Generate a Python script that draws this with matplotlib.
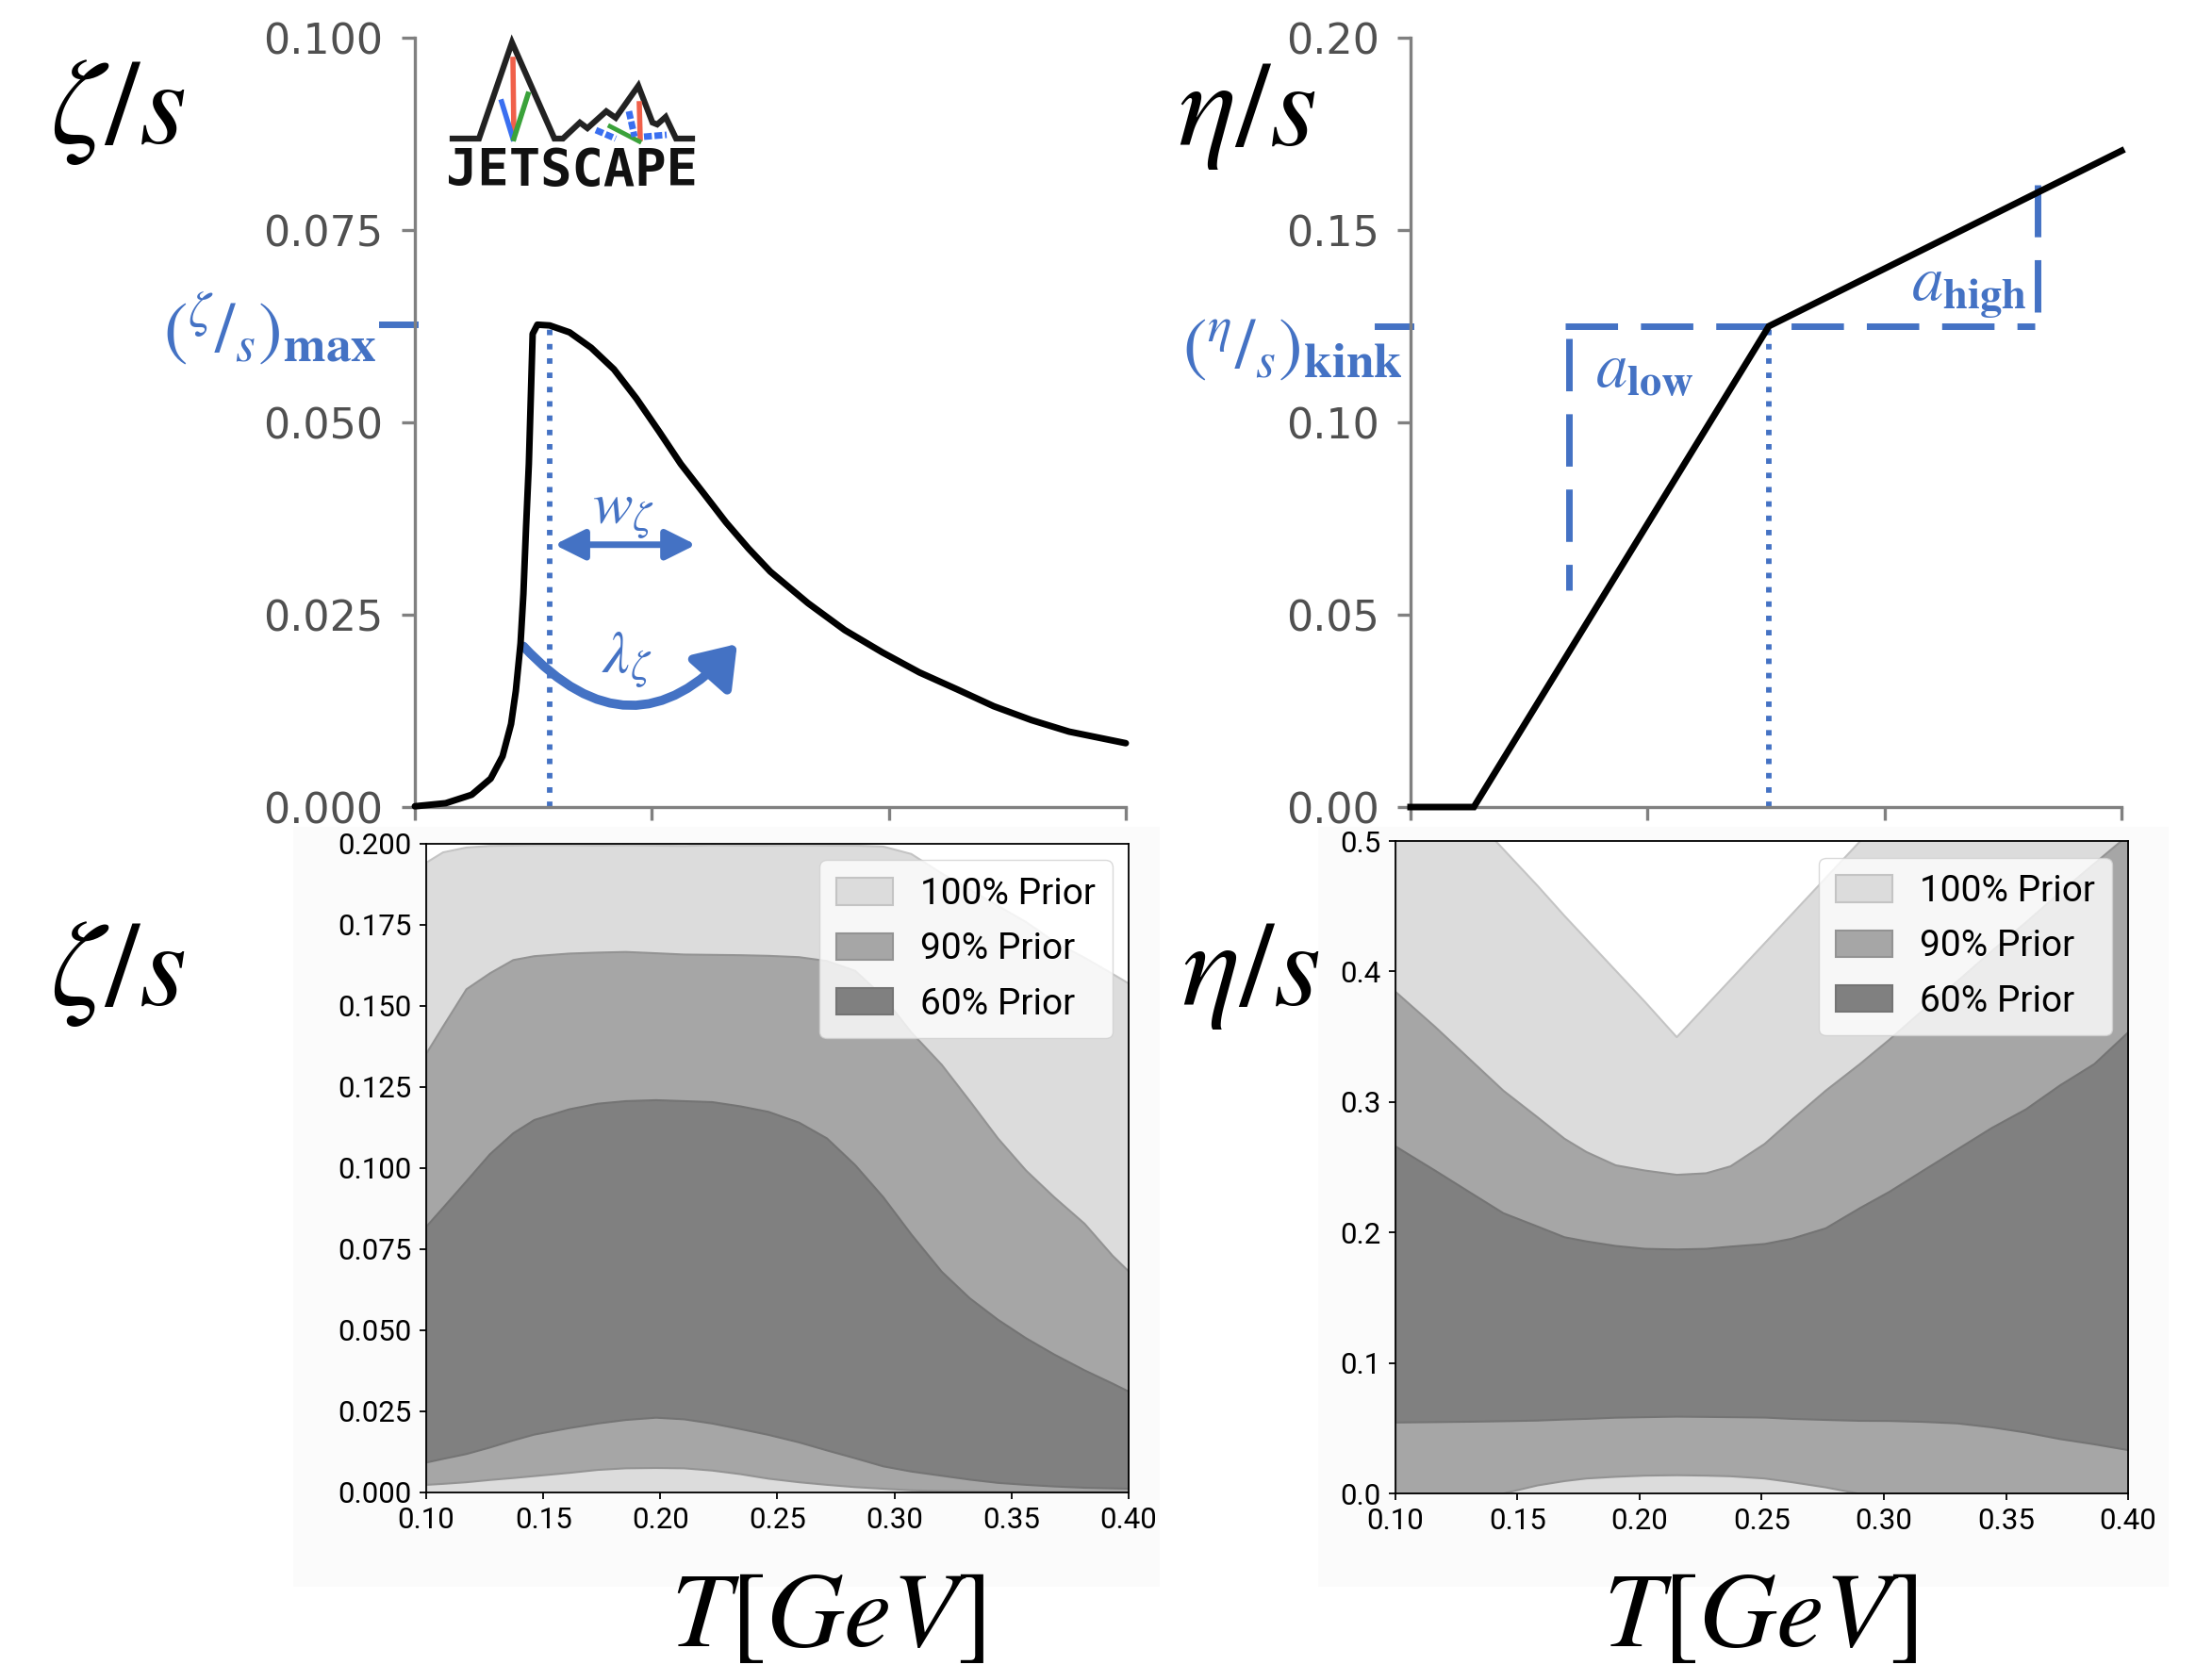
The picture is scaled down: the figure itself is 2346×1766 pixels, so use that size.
import matplotlib
matplotlib.use('Agg')
import numpy as np
import matplotlib.pyplot as plt
import matplotlib.transforms as mtransforms
from matplotlib.patches import FancyArrowPatch, Rectangle, ArrowStyle
from matplotlib.font_manager import FontProperties
from matplotlib.ticker import FormatStrFormatter

plt.rcParams['mathtext.fontset'] = 'stix'

# ---- zeta/s parametrisation (top left) ----
T_zeta = [0.100, 0.113, 0.124, 0.132, 0.137, 0.1406, 0.1426, 0.1446, 0.1458, 0.1469,
          0.1481, 0.1489, 0.1497, 0.1517, 0.1569, 0.1653, 0.1744, 0.184, 0.1935, 0.2031,
          0.2122, 0.2218, 0.2313, 0.2408, 0.250, 0.2659, 0.2814, 0.2973, 0.3129, 0.3288,
          0.3443, 0.3602, 0.3761, 0.400]
zeta = [0.0001, 0.0005, 0.0016, 0.0037, 0.0066, 0.0108, 0.0151, 0.0213, 0.0277, 0.0362,
        0.0446, 0.0530, 0.0615, 0.0627, 0.0626, 0.0617, 0.0597, 0.0569, 0.0531, 0.0488,
        0.0446, 0.0408, 0.0370, 0.0336, 0.0306, 0.0265, 0.0230, 0.0201, 0.0175, 0.0153,
        0.0131, 0.0113, 0.0098, 0.0083]
T_peak = 0.157

# ---- eta/s parametrisation (top right) ----
T_eta = [0.100, 0.1267, 0.2512, 0.400]
eta = [0.0, 0.0, 0.125, 0.1706]

# ---- zeta/s prior bands (bottom left) ----
T_zp = [0.100, 0.107, 0.117, 0.127, 0.137, 0.146, 0.161, 0.173, 0.185, 0.198, 0.210,
        0.222, 0.234, 0.246, 0.259, 0.271, 0.283, 0.295, 0.307, 0.320, 0.332, 0.344,
        0.356, 0.368, 0.381, 0.393, 0.400]
zeta100_hi = [0.1944, 0.1975, 0.1990, 0.1995, 0.1996, 0.1997, 0.1997, 0.1996, 0.1997,
              0.1996, 0.1995, 0.1997, 0.1996, 0.1996, 0.1997, 0.1996, 0.1996, 0.1993,
              0.1970, 0.1910, 0.1860, 0.1810, 0.1760, 0.1700, 0.1650, 0.1600, 0.1570]
zeta90_hi = [0.1356, 0.1438, 0.1553, 0.1602, 0.1643, 0.1655, 0.1663, 0.1666, 0.1668,
             0.1664, 0.1660, 0.1659, 0.1658, 0.1656, 0.1652, 0.1640, 0.1610, 0.1530,
             0.1420, 0.1320, 0.1208, 0.1093, 0.0994, 0.0912, 0.0830, 0.0731, 0.0682]
zeta60_hi = [0.0822, 0.0879, 0.0961, 0.1044, 0.1109, 0.1150, 0.1183, 0.1200, 0.1208,
             0.1211, 0.1208, 0.1205, 0.1192, 0.1175, 0.1142, 0.1093, 0.1011, 0.0912,
             0.0797, 0.0682, 0.0600, 0.0534, 0.0477, 0.0427, 0.0378, 0.0337, 0.0312]
zeta60_lo = [0.0094, 0.0105, 0.0120, 0.0140, 0.0162, 0.0180, 0.0200, 0.0214, 0.0225,
             0.0232, 0.0227, 0.0214, 0.0197, 0.0179, 0.0156, 0.0131, 0.0107, 0.0082,
             0.0066, 0.0053, 0.0041, 0.0031, 0.0025, 0.0020, 0.0016, 0.0014, 0.0013]
zeta90_lo = [0.0025, 0.0028, 0.0033, 0.0040, 0.0046, 0.0052, 0.0062, 0.0071, 0.0076,
             0.0077, 0.0076, 0.0069, 0.0058, 0.0044, 0.0033, 0.0025, 0.0018, 0.0013,
             0.0008, 0.0006, 0.0005, 0.0004, 0.0004, 0.0003, 0.0003, 0.0003, 0.0003]

# ---- eta/s prior bands (bottom right) ----
T_ep = [0.100, 0.116, 0.130, 0.144, 0.158, 0.169, 0.178, 0.190, 0.202, 0.215, 0.227,
        0.237, 0.251, 0.262, 0.276, 0.290, 0.302, 0.316, 0.330, 0.344, 0.358, 0.372,
        0.386, 0.400]
eta100_hi = [0.583, 0.551, 0.522, 0.494, 0.466, 0.443, 0.425, 0.401, 0.377, 0.350,
             0.374, 0.394, 0.422, 0.444, 0.472, 0.500, 0.524, 0.552, 0.580, 0.608,
             0.636, 0.664, 0.692, 0.720]
eta90_hi = [0.3845, 0.3580, 0.3335, 0.3090, 0.2886, 0.2722, 0.2620, 0.2518, 0.2478,
            0.2445, 0.2457, 0.2510, 0.2682, 0.2865, 0.3090, 0.3294, 0.3480, 0.3710,
            0.3930, 0.4160, 0.4380, 0.4610, 0.4830, 0.5050]
eta60_hi = [0.2661, 0.2478, 0.2314, 0.2151, 0.2049, 0.1967, 0.1935, 0.1900, 0.1878,
            0.1873, 0.1878, 0.1895, 0.1915, 0.1955, 0.2035, 0.2190, 0.2314, 0.2478,
            0.2641, 0.2804, 0.2947, 0.3131, 0.3294, 0.3539]
eta60_lo = [0.0547, 0.0550, 0.0553, 0.0557, 0.0562, 0.0570, 0.0575, 0.0584, 0.0588,
            0.0592, 0.0590, 0.0588, 0.0585, 0.0575, 0.0567, 0.0560, 0.0559, 0.0552,
            0.0540, 0.0510, 0.0470, 0.0420, 0.0380, 0.0335]
eta90_lo = [0.0, 0.0, 0.0, 0.0003, 0.0065, 0.0098, 0.0118, 0.0131, 0.0140, 0.0143,
            0.0140, 0.0135, 0.0118, 0.0090, 0.0050, 0.0, 0.0, 0.0, 0.0, 0.0, 0.0, 0.0,
            0.0, 0.0]

band_labels = ['100% Prior', '90% Prior', '60% Prior']

W, H = 2346, 1766
BLUE = '#4472c4'
GREY_TXT = '#505050'
FILL = ['#dcdcdc', '#a6a6a6', '#808080']
EDGE = ['#c4c4c4', '#939393', '#747474']

fig = plt.figure(figsize=(W / 100, H / 100), dpi=100)


def rect(x0, y0, x1, y1):
    # pixel box -> figure fraction
    return [x0 / W, 1 - y1 / H, (x1 - x0) / W, (y1 - y0) / H]


def fpos(x, y):
    return x / W, 1 - y / H


# faint backdrop behind the lower panels
for x0, x1 in [(311, 1230), (1398, 2300)]:
    fig.patches.append(Rectangle((x0 / W, 1 - 1683 / H), (x1 - x0) / W, (1683 - 877) / H,
                                 transform=fig.transFigure, facecolor='#fbfbfb',
                                 edgecolor='none', zorder=-5))


def style_top(ax, ymax, fmt):
    ax.set_xlim(0.1, 0.4)
    ax.set_ylim(0, ymax)
    ax.set_xticks([0.1, 0.2, 0.3, 0.4])
    ax.set_xticklabels([])
    ax.set_yticks(np.linspace(0, ymax, 5))
    ax.yaxis.set_major_formatter(FormatStrFormatter(fmt))
    for s in ['top', 'right']:
        ax.spines[s].set_visible(False)
    for s in ['left', 'bottom']:
        ax.spines[s].set_color('#808080')
        ax.spines[s].set_linewidth(2.4)
    ax.tick_params(colors='#808080', labelcolor=GREY_TXT, labelsize=32,
                   length=10, width=2.4, pad=14)


# ---------------- top left: zeta/s ----------------
ax1 = fig.add_axes(rect(440, 40, 1194, 856))
style_top(ax1, 0.1, '%.3f')
ax1.plot(T_zeta, zeta, color='black', lw=5, solid_joinstyle='round',
         solid_capstyle='round', clip_on=False, zorder=3)
zmax = max(zeta)
ax1.plot([T_peak, T_peak], [0, zmax], color=BLUE, lw=4.2, ls=(0, (1, 1.6)), zorder=2)
bl1 = mtransforms.blended_transform_factory(ax1.transAxes, ax1.transData)
ax1.plot([-0.047, 0], [zmax, zmax], color=BLUE, lw=5, transform=bl1, clip_on=False)
fig.text(*fpos(400, 349), r'$(^{\zeta}/_{s})_{\mathbf{max}}$', color=BLUE, fontsize=55,
         ha='right', va='center')
ax1.annotate('', xy=(0.2186, 0.0341), xytext=(0.1589, 0.0341),
             arrowprops=dict(arrowstyle='<|-|>', color=BLUE, lw=5, mutation_scale=48,
                             shrinkA=0, shrinkB=0))
ax1.text(0.188, 0.0385, r'$w_\zeta$', color=BLUE, fontsize=46, ha='center', va='center')
arc = FancyArrowPatch((0.1458, 0.0209), (0.236, 0.0212),
                      connectionstyle='arc3,rad=0.55',
                      arrowstyle=ArrowStyle('-|>', head_length=0.6, head_width=0.42),
                      mutation_scale=42, color=BLUE, lw=7, shrinkA=0, shrinkB=0)
ax1.add_patch(arc)
ax1.text(0.1895, 0.0192, r'$\lambda_\zeta$', color=BLUE, fontsize=46, ha='center',
         va='center')

# logo
lg = fig.add_axes(rect(470, 36, 744, 206))
lg.set_xlim(470, 744)
lg.set_ylim(206, 36)
lg.axis('off')
lg.plot([480, 508, 543, 588, 597, 615, 623, 643, 653, 677, 692, 697, 706, 717, 734],
        [147, 147, 45, 147, 147, 130, 136, 118, 125, 91, 130, 132, 124, 147, 147],
        color='#222222', lw=4.5, solid_joinstyle='miter')
lg.plot([544, 545], [63, 143], color='#f0604a', lw=4)
lg.plot([532, 544], [108, 147], color='#3a6ff0', lw=4)
lg.plot([560, 545], [100, 147], color='#3aa23a', lw=4)
lg.plot([678, 679], [110, 147], color='#f0604a', lw=4)
lg.plot([647, 678], [134, 150], color='#3aa23a', lw=3.5)
for xs, ys in [([632, 653], [138, 147]), ([667, 673], [118, 145]), ([683, 707], [145, 143])]:
    lg.plot(xs, ys, color='#3a6ff0', lw=5, ls=(0, (1.2, 0.4)))
lg.text(607, 181, 'JETSCAPE', fontsize=40, fontweight='bold', family='DejaVu Sans Mono',
        ha='center', va='center', color='#111111')

# ---------------- top right: eta/s ----------------
ax2 = fig.add_axes(rect(1496, 40, 2250, 856))
style_top(ax2, 0.2, '%.2f')
ax2.plot(T_eta, eta, color='black', lw=5, solid_joinstyle='miter', clip_on=False,
         zorder=3)
kink_T, kink = T_eta[2], eta[2]
ax2.plot([kink_T, kink_T], [0, kink], color=BLUE, lw=4.2, ls=(0, (1, 1.6)), zorder=2)
dash = dict(color=BLUE, lw=5, ls=(0, (8, 3.5)))
ax2.plot([0.1652, 0.3634], [kink, kink], **dash)
ax2.plot([0.1668, 0.1668], [0.1218, 0.0564], **dash)
ax2.plot([0.3647, 0.3647], [0.1287, 0.1618], **dash)
bl2 = mtransforms.blended_transform_factory(ax2.transAxes, ax2.transData)
ax2.plot([-0.047, 0], [kink, kink], color=BLUE, lw=5, transform=bl2, clip_on=False)
fig.text(*fpos(1488, 369), r'$(^{\eta}/_{s})_{\mathbf{kink}}$', color=BLUE, fontsize=55,
         ha='right', va='center')
ax2.text(0.199, 0.1137, r'$a_{\mathbf{low}}$', color=BLUE, fontsize=48, ha='center',
         va='center')
ax2.text(0.3355, 0.1346, r'$a_{\mathbf{high}}$', color=BLUE, fontsize=48, ha='center',
         va='center')

# ---------------- bottom panels: prior bands ----------------
tick_font = FontProperties(family='Roboto', size=22.5)
leg_font = FontProperties(family='Roboto', size=28)


def style_bottom(ax, ymax, yfmt, ystep):
    ax.set_xlim(0.1, 0.4)
    ax.set_ylim(0, ymax)
    ax.set_xticks(np.arange(0.1, 0.401, 0.05))
    ax.set_yticks(np.arange(0, ymax + 1e-9, ystep))
    ax.xaxis.set_major_formatter(FormatStrFormatter('%.2f'))
    ax.yaxis.set_major_formatter(FormatStrFormatter(yfmt))
    for s in ax.spines.values():
        s.set_linewidth(1.3)
    ax.tick_params(length=5, width=1.3, pad=6)
    for lab in ax.get_xticklabels() + ax.get_yticklabels():
        lab.set_fontproperties(tick_font)
    ax.legend(loc='upper right', prop=leg_font, framealpha=0.8, edgecolor='#d0d0d0',
              fancybox=True, handlelength=1.55, handleheight=0.75, handletextpad=0.75,
              labelspacing=0.55, borderpad=0.45, borderaxespad=0.45)


ax3 = fig.add_axes(rect(452, 895, 1197, 1583))
ax3.fill_between(T_zp, 0, zeta100_hi, facecolor=FILL[0], edgecolor=EDGE[0], lw=1.5,
                 label=band_labels[0])
ax3.fill_between(T_zp, zeta90_lo, zeta90_hi, facecolor=FILL[1], edgecolor=EDGE[1],
                 lw=1.5, label=band_labels[1])
ax3.fill_between(T_zp, zeta60_lo, zeta60_hi, facecolor=FILL[2], edgecolor=EDGE[2],
                 lw=1.5, label=band_labels[2])
style_bottom(ax3, 0.2, '%.3f', 0.025)

ax4 = fig.add_axes(rect(1480, 892, 2257, 1584))
ax4.fill_between(T_ep, 0, eta100_hi, facecolor=FILL[0], edgecolor=EDGE[0], lw=1.5,
                 label=band_labels[0])
ax4.fill_between(T_ep, eta90_lo, eta90_hi, facecolor=FILL[1], edgecolor=EDGE[1],
                 lw=1.5, label=band_labels[1])
ax4.fill_between(T_ep, eta60_lo, eta60_hi, facecolor=FILL[2], edgecolor=EDGE[2],
                 lw=1.5, label=band_labels[2])
style_bottom(ax4, 0.5, '%.1f', 0.1)

# ---------------- big axis symbols ----------------
big = dict(fontsize=93, ha='center', va='baseline', color='black')
fig.text(*fpos(125, 152), r'$\zeta/s$', **big)
fig.text(*fpos(1322, 154), r'$\eta/s$', **big)
fig.text(*fpos(125, 1066), r'$\zeta/s$', **big)
fig.text(*fpos(1326, 1066), r'$\eta/s$', **big)
fig.text(*fpos(878, 1746), r'$T[GeV]$', fontsize=82, ha='center', va='baseline')
fig.text(*fpos(1867, 1746), r'$T[GeV]$', fontsize=82, ha='center', va='baseline')

fig.savefig('out.png', dpi=100)
